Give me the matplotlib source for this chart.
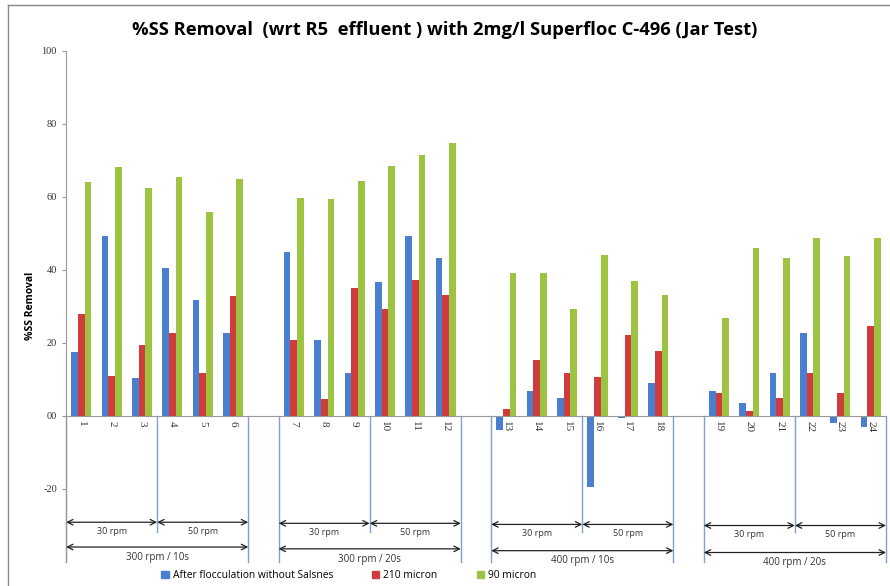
import matplotlib.pyplot as plt
from matplotlib.lines import Line2D
from matplotlib.patches import Patch

# data
samples = [str(i) for i in range(1, 25)]
after_floc = [17.4, 49.4, 10.3, 40.6, 31.7, 22.6,
              45.0, 20.8, 11.8, 36.7, 49.3, 43.3,
              -3.9, 6.8, 4.9, -19.6, -0.5, 8.9,
              6.9, 3.6, 11.8, 22.6, -1.9, -3.0]
micron_210 = [27.9, 10.9, 19.4, 22.6, 11.8, 32.8,
              20.8, 4.6, 34.9, 29.3, 37.2, 33.1,
              1.8, 15.3, 11.8, 10.7, 22.1, 17.8,
              6.1, 1.4, 4.8, 11.8, 6.1, 24.6]
micron_90 = [64.0, 68.3, 62.5, 65.5, 55.9, 64.9,
             59.8, 59.3, 64.4, 68.6, 71.5, 74.7,
             39.0, 39.0, 29.3, 44.0, 37.0, 33.1,
             26.7, 45.9, 43.2, 48.6, 43.8, 48.6]
series_names = ['After flocculation without Salsnes', '210 micron', '90 micron']
colors = ['#4a7fcf', '#d03c3c', '#9cc341']
speed_labels = ['30 rpm', '50 rpm']
group_labels = ['300 rpm / 10s', '300 rpm / 20s', '400 rpm / 10s', '400 rpm / 20s']

fig = plt.figure(figsize=(8.9, 5.86), dpi=100)
ax = fig.add_axes([0.0742, 0.0416, 0.9213, 0.8714])

# one empty slot between each group of six samples
slots = [i + i // 6 for i in range(len(samples))]
w = 0.22
for k, (vals, c) in enumerate(zip([after_floc, micron_210, micron_90], colors)):
    ax.bar([s + (k - 1) * w for s in slots], vals, width=w, color=c, zorder=2)

ax.set_xlim(-0.5, 26.5)
ax.set_ylim(-40, 100)
ax.set_yticks([-20, 0, 20, 40, 60, 80, 100])
ax.set_yticklabels(['-20', '00', '20', '40', '60', '80', '100'],
                   family='Liberation Serif', fontsize=7.5, color='#333333')
ax.set_xticks([])
ax.tick_params(axis='y', length=3, color='#999999')
for s in ['top', 'right', 'bottom']:
    ax.spines[s].set_visible(False)
ax.spines['left'].set_color('#999999')
ax.axhline(0, color='#999999', lw=0.8, zorder=3)
ax.set_ylabel('%SS Removal', fontsize=7.5, fontweight='bold', family='Open Sans', labelpad=4)

# category labels under the zero line
for s, lab in zip(slots, samples):
    ax.text(s, -1.5, lab, rotation=270, ha='center', va='top',
            fontsize=8, family='Liberation Serif', color='#333333')

# multi-level category separators, arrows and labels
line_c = '#7f9fd6'
for g in range(4):
    x0 = 7 * g - 0.5
    xm = x0 + 3
    x1 = x0 + 6
    ax.plot([x0, x0], [0, -40], color=line_c, lw=1, clip_on=False)
    ax.plot([x1, x1], [0, -40], color=line_c, lw=1, clip_on=False)
    ax.plot([xm, xm], [0, -32], color=line_c, lw=1, clip_on=False)
    ya = -29.2 - 0.3 * g
    yb = -36.0 - 0.5 * g
    for xa, xb, lab in [(x0, xm, speed_labels[0]), (xm, x1, speed_labels[1])]:
        ax.annotate('', xy=(xb, ya), xytext=(xa, ya),
                    arrowprops=dict(arrowstyle='<->', color='#222222', lw=0.9,
                                    shrinkA=0, shrinkB=0), annotation_clip=False)
        ax.text((xa + xb) / 2, ya - 1.3, lab, ha='center', va='top',
                fontsize=6.5, family='Open Sans', color='#333333')
    ax.annotate('', xy=(x1, yb), xytext=(x0, yb),
                arrowprops=dict(arrowstyle='<->', color='#222222', lw=0.9,
                                shrinkA=0, shrinkB=0), annotation_clip=False)
    ax.text((x0 + x1) / 2, yb - 1.3, group_labels[g], ha='center', va='top',
            fontsize=7, family='Open Sans', color='#333333', clip_on=False)

fig.text(0.5, 0.948, '%SS Removal  (wrt R5  effluent ) with 2mg/l Superfloc C-496 (Jar Test)',
         ha='center', va='center', fontsize=13.2, fontweight='bold', family='Open Sans')

handles = [Patch(color=c, label=n) for c, n in zip(colors, series_names)]
fig.legend(handles=handles, loc='center', bbox_to_anchor=(0.392, 0.018), ncol=3,
           frameon=False, handlelength=0.7, handleheight=0.7,
           columnspacing=3.8, handletextpad=0.4, prop={'family': 'Open Sans', 'size': 7.4})

# chart area border (left and top visible)
fig.add_artist(Line2D([0.009, 0.009], [0, 0.992], color='#888888', lw=1, transform=fig.transFigure))
fig.add_artist(Line2D([0.009, 1], [0.992, 0.992], color='#888888', lw=1, transform=fig.transFigure))

fig.savefig('out.png', dpi=100)
